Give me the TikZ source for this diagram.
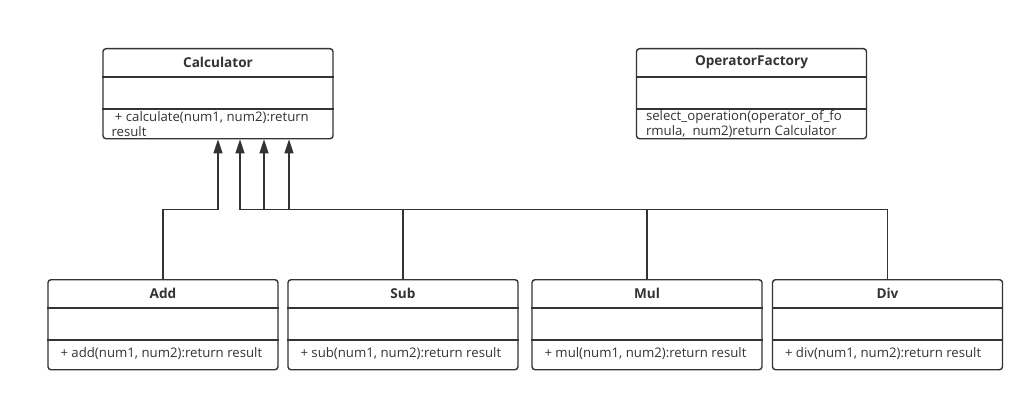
\documentclass[tikz,border=0pt]{standalone}
\usepackage{fontspec}
\setmainfont{Open Sans}
\usetikzlibrary{arrows.meta}

\definecolor{linegray}{HTML}{333333}

% class box: name, centre x, top y, title
\newcommand{\umlclass}[4]{%
  \node[cls, anchor=north] (#1) at (#2,#3) {};
  \draw[sep] ([yshift=-29pt]#1.north west) -- ([yshift=-29pt]#1.north east);
  \draw[sep] ([yshift=-61pt]#1.north west) -- ([yshift=-61pt]#1.north east);
  \node[ttl] (#1-title) at ([yshift=-14.5pt]#1.north) {#4};
}

\tikzset{
  cls/.style={draw=linegray, line width=1.4pt, rounded corners=3pt,
    minimum width=230pt, minimum height=90pt, inner sep=0pt},
  sep/.style={draw=linegray, line width=1.4pt},
  ttl/.style={font=\fontsize{13.6}{15}\selectfont\bfseries, text=linegray},
  mth/.style={font=\fontsize{13.2}{14.5}\selectfont, text=linegray,
    anchor=west, align=left, inner sep=0pt},
  inh/.style={-{Triangle[length=14pt,width=9pt]}, line width=1.4pt, draw=linegray},
}

\begin{document}
\begin{tikzpicture}[x=1pt, y=-1pt]
\useasboundingbox (0,0) rectangle (1035,401);

% top classes
\umlclass{calc}{218}{48}{Calculator}
\node[mth] (calc-ops) at ([xshift=9pt,yshift=-76pt]calc.north west)
  {\ + calculate(num1, num2):return\\result};

\umlclass{factory}{751.5}{48}{OperatorFactory}
\node[mth] (factory-ops) at ([xshift=10pt,yshift=-76pt]factory.north west)
  {select\_operation(operator\_of\_fo\\rmula,\ \ num2)return Calculator};

% subclasses
\umlclass{add}{163}{279}{Add}
\node[mth] (add-ops) at ([xshift=13pt,yshift=-75pt]add.north west)
  {+ add(num1, num2):return result};

\umlclass{sub}{403}{279}{Sub}
\node[mth] (sub-ops) at ([xshift=13pt,yshift=-75pt]sub.north west)
  {+ sub(num1, num2):return result};

\umlclass{mul}{647}{279}{Mul}
\node[mth] (mul-ops) at ([xshift=13pt,yshift=-75pt]mul.north west)
  {+ mul(num1, num2):return result};

\umlclass{div}{887.5}{279}{Div}
\node[mth] (div-ops) at ([xshift=13pt,yshift=-75pt]div.north west)
  {+ div(num1, num2):return result};

% inheritance
\coordinate (bus) at (0,209.5);
\draw[inh] (add.north) -- (add.north |- bus) -| (calc.south);
\draw[inh] (sub.north) -- (sub.north |- bus) -| ([xshift=22pt]calc.south);
\draw[inh] (mul.north) -- (mul.north |- bus) -| ([xshift=46pt]calc.south);
\draw[inh] (div.north) -- (div.north |- bus) -| ([xshift=71pt]calc.south);

\end{tikzpicture}
\end{document}
